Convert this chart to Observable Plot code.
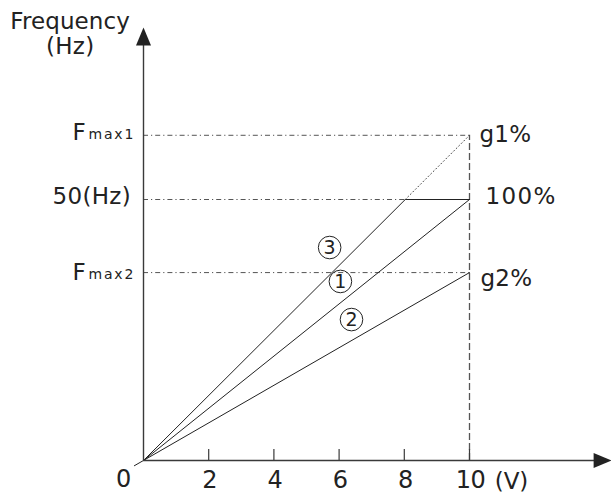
<!DOCTYPE html>
<html>
<head>
<meta charset="utf-8">
<script src="https://cdn.jsdelivr.net/npm/d3@7"></script>
<script src="https://cdn.jsdelivr.net/npm/@observablehq/plot@0.6"></script>
<style>
  html, body { margin: 0; padding: 0; background: #fff; }
  svg text { font-family: "DejaVu Sans", "Liberation Sans", sans-serif; fill: #222; }
  g[aria-description="title-freq"] text { letter-spacing: 0.1px; }
  g[aria-description="title-hz"] text { letter-spacing: 0.3px; }
  g[aria-description="left-labels"] text { letter-spacing: 0.3px; }
  g[aria-description="left-subs"] text { letter-spacing: 1.8px; }
  g[aria-description="right-labels"] text { letter-spacing: 0.2px; }
  g[aria-description="right-100"] text { letter-spacing: 1.4px; }
  g[aria-description="tick-labels"] text { letter-spacing: -0.5px; }
  g[aria-description="unit-label"] text { letter-spacing: 0px; }
</style>
</head>
<body>
<div id="chart"></div>
<script>
// ---- data ----
const xTicks = [2, 4, 6, 8, 10];
const xTickLabels = ["2", "4", "6", "8", "10"];
const fMax1 = 62.3;      // Fmax1 level (Hz)
const f50 = 50;          // 50 Hz level
const fMax2 = 36;        // Fmax2 level (Hz)
const vMax = 10;         // 10 V
const knee = 8.03;       // where curve 3 reaches 50 Hz

const levels = [fMax1, f50, fMax2];
const rightLabels = ["g1%", "100%", "g2%"];

const curve1X = [0, vMax], curve1Y = [0, f50];
const curve2X = [-0.28, vMax], curve2Y = [-1.0, fMax2];
const curve3X = [0, knee, vMax], curve3Y = [0, f50, f50];
const dottedX = [knee, vMax], dottedY = [f50, fMax1];

const circleNames = ["3", "1", "2"];
const circleX = [5.71, 6.04, 6.38];
const circleY = [40.8, 34.3, 27.0];

const xAxisEnd = 14.36;  // arrow tip of V axis
const yAxisEnd = 82.95;  // arrow tip of frequency axis

// ---- build ----
const pts = (xs, ys) => xs.map((x, i) => ({x, y: ys[i]}));
const circles = circleNames.map((n, i) => ({n, x: circleX[i], y: circleY[i]}));

const arrowHead = {
  draw(ctx) {
    ctx.moveTo(0, 0);
    ctx.lineTo(7.5, 18);
    ctx.lineTo(-7.5, 18);
    ctx.closePath();
  }
};

const axisColor = "#3a3a3a";
const ink = "#222";
const FS = 23;

const label = (text, x, y, opts) => Plot.text([text], {x, y, text: d => d, fontSize: FS, ...opts});

const chart = Plot.plot({
  width: 611,
  height: 495,
  margin: 0,
  x: {domain: [0, 10], range: [143, 469], axis: null},
  y: {domain: [0, 50], range: [460, 199], axis: null},
  style: {background: "#fff", overflow: "visible"},
  marks: [
    // guide lines
    Plot.ruleY(levels, {y: d => d, x1: 0, x2: vMax, stroke: "#555", strokeWidth: 1, strokeDasharray: "5,3,1.2,3"}),
    Plot.ruleX([vMax], {x: d => d, y1: 0, y2: fMax1, stroke: "#555", strokeWidth: 1.3, strokeDasharray: "7,3"}),
    Plot.line(pts(dottedX, dottedY), {x: "x", y: "y", stroke: "#444", strokeWidth: 1, strokeDasharray: "1,2.6"}),
    // curves
    Plot.line(pts(curve1X, curve1Y), {x: "x", y: "y", stroke: ink, strokeWidth: 1}),
    Plot.line(pts(curve2X, curve2Y), {x: "x", y: "y", stroke: ink, strokeWidth: 1}),
    Plot.line(pts(curve3X, curve3Y), {x: "x", y: "y", stroke: ink, strokeWidth: 1}),
    // axes
    Plot.ruleY([0], {y: d => d, x1: 0, x2: xAxisEnd - 0.4, stroke: axisColor, strokeWidth: 1.4}),
    Plot.ruleX([0], {x: d => d, y1: 0, y2: yAxisEnd - 3, stroke: axisColor, strokeWidth: 1.4}),
    Plot.dot([{x: 0, y: yAxisEnd}], {x: "x", y: "y", r: 5, symbol: arrowHead, fill: ink, stroke: "none"}),
    Plot.dot([{x: xAxisEnd, y: 0}], {x: "x", y: "y", r: 5, symbol: arrowHead, rotate: 90, fill: ink, stroke: "none"}),
    Plot.ruleX(xTicks, {x: d => d, y1: 0, y2: 2.1, stroke: axisColor, strokeWidth: 1.2}),
    // tick labels
    Plot.text(xTicks, {x: d => d, y: 0, dy: 20, dx: 1, text: (d, i) => xTickLabels[i], fontSize: 24, ariaDescription: "tick-labels"}),
    label("0", 0, 0, {dx: -20, dy: 19, fontSize: 24, ariaDescription: "tick-labels"}),
    label("(V)", vMax, 0, {dx: 42, dy: 21, ariaDescription: "unit-label"}),
    // axis titles
    label("Frequency", -2.25, 84.1, {ariaDescription: "title-freq"}),
    label("(Hz)", -2.25, 79.3, {ariaDescription: "title-hz"}),
    // left level labels
    label("F", 0, fMax1, {dx: -71, dy: -3, textAnchor: "start", ariaDescription: "left-labels"}),
    Plot.text(["max1"], {x: 0, y: fMax1, dx: -55, dy: -1, text: d => d, fontSize: 14, textAnchor: "start", ariaDescription: "left-subs"}),
    label("50(Hz)", 0, f50, {dx: -12.5, dy: -3, textAnchor: "end", ariaDescription: "left-labels"}),
    label("F", 0, fMax2, {dx: -71, dy: 0, textAnchor: "start", ariaDescription: "left-labels"}),
    Plot.text(["max2"], {x: 0, y: fMax2, dx: -55, dy: 2, text: d => d, fontSize: 14, textAnchor: "start", ariaDescription: "left-subs"}),
    // right level labels
    label(rightLabels[0], vMax, fMax1, {dx: 10, dy: -1, textAnchor: "start", ariaDescription: "right-labels"}),
    label(rightLabels[1], vMax, f50, {dx: 16, dy: -3, textAnchor: "start", ariaDescription: "right-100"}),
    label(rightLabels[2], vMax, fMax2, {dx: 11, dy: 6, textAnchor: "start", ariaDescription: "right-labels"}),
    // circled numbers
    Plot.dot(circles, {x: "x", y: "y", r: 11.3, stroke: ink, strokeWidth: 1, fill: "none"}),
    Plot.text(circles, {x: "x", y: "y", text: "n", fontSize: 19, dy: 0.5})
  ]
});
document.getElementById("chart").appendChild(chart);
</script>
</body>
</html>
